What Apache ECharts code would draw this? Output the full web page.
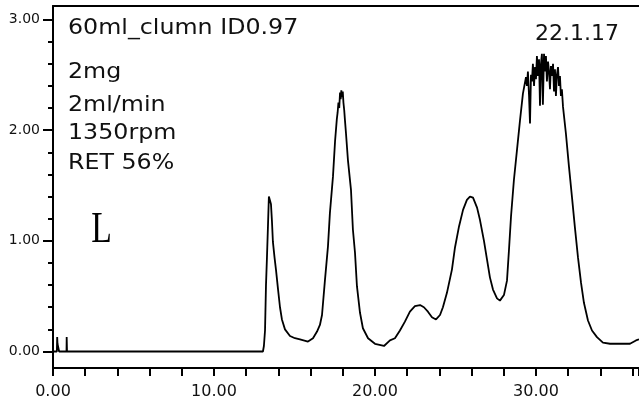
<!DOCTYPE html>
<html>
<head>
<meta charset="utf-8">
<script src="https://cdn.jsdelivr.net/npm/echarts@6/dist/echarts.min.js"></script>
<style>html,body{margin:0;padding:0;background:#fff}#c{width:639px;height:400px}</style>
</head>
<body>
<div id="c"></div>
<script>
// Retention time (min) and detector response
const retentionTime = [
  0, 0.24, 0.26, 0.28, 0.37, 0.38, 0.84, 0.85, 0.87,
  13.04, 13.10, 13.17, 13.23, 13.29, 13.35, 13.41, 13.47, 13.54, 13.60, 13.66, 13.76, 13.85, 13.98,
  14.10, 14.22, 14.41, 14.72, 15.03, 15.34, 15.84, 16.15, 16.40, 16.58, 16.71, 16.89, 17.08, 17.20,
  17.39, 17.52, 17.63, 17.68, 17.73, 17.78, 17.83, 17.87, 17.91, 17.94, 18.00, 18.04, 18.09, 18.13,
  18.20, 18.32, 18.51, 18.63, 18.76, 18.88, 19.07, 19.25, 19.57, 20.00, 20.56, 20.93, 21.24, 21.55,
  21.86, 22.17, 22.48, 22.80, 23.04, 23.29, 23.54, 23.79, 24.04, 24.22, 24.47, 24.78, 24.97, 25.22,
  25.47, 25.71, 25.90, 26.09, 26.34, 26.52, 26.77, 26.96, 27.14, 27.33, 27.58, 27.76, 28.01, 28.20,
  28.32, 28.45, 28.63, 28.82, 29.01, 29.19, 29.38,
  29.44, 29.50, 29.57, 29.63, 29.69, 29.75, 29.81, 29.88, 29.94, 30.00, 30.06, 30.12, 30.19, 30.25,
  30.31, 30.37, 30.43, 30.50, 30.56, 30.62, 30.68, 30.75, 30.81, 30.87, 30.93, 31.00, 31.06, 31.12,
  31.18, 31.24, 31.30, 31.37, 31.43, 31.49, 31.55, 31.61,
  31.68, 31.86, 32.05, 32.24, 32.42, 32.61, 32.80, 32.98, 33.23, 33.48, 33.79, 34.16, 34.60, 35.22,
  35.84, 36.21, 36.40
];
const absorbance = [
  0, 0, 0.13, 0.07, 0.07, 0, 0, 0.13, 0,
  0, 0.05, 0.19, 0.60, 0.85, 1.12, 1.40, 1.37, 1.33, 1.18, 0.99, 0.85, 0.74, 0.56,
  0.40, 0.29, 0.20, 0.14, 0.12, 0.11, 0.09, 0.12, 0.18, 0.24, 0.33, 0.64, 0.95, 1.25,
  1.58, 1.90, 2.10, 2.16, 2.25, 2.20, 2.34, 2.28, 2.36, 2.30, 2.35, 2.25, 2.18, 2.10,
  1.97, 1.73, 1.46, 1.10, 0.89, 0.59, 0.35, 0.21, 0.12, 0.07, 0.05, 0.10, 0.12, 0.19,
  0.27, 0.36, 0.41, 0.42, 0.40, 0.36, 0.31, 0.29, 0.33, 0.40, 0.53, 0.74, 0.94, 1.13,
  1.28, 1.37, 1.40, 1.39, 1.30, 1.19, 1.00, 0.83, 0.67, 0.56, 0.48, 0.46, 0.51, 0.64,
  0.91, 1.22, 1.55, 1.82, 2.09, 2.33, 2.48,
  2.40, 2.53, 2.31, 2.06, 2.50, 2.44, 2.60, 2.40, 2.57, 2.46, 2.67, 2.49, 2.64, 2.22,
  2.60, 2.69, 2.23, 2.69, 2.53, 2.67, 2.44, 2.62, 2.53, 2.37, 2.58, 2.49, 2.60, 2.35,
  2.55, 2.31, 2.50, 2.57, 2.40, 2.49, 2.31, 2.37,
  2.21, 1.97, 1.67, 1.39, 1.12, 0.85, 0.62, 0.44, 0.28, 0.19, 0.13, 0.08, 0.07, 0.07,
  0.07, 0.10, 0.11
];
const xLabelValues = [0, 10, 20, 30];
const yLabelValues = [0, 1, 2, 3];
const yMinorTickValues = [0, 0.2, 0.4, 0.6, 0.8, 1.0, 1.2, 1.4, 1.6, 1.8, 2.0, 2.2, 2.4, 2.6, 2.8, 3.0];
const noteLines = ['60ml_clumn ID0.97', '2mg', '2ml/min', '1350rpm', 'RET 56%'];
const sampleMark = 'L';
const dateText = '22.1.17';

const X_MIN = 0, X_MAX = 36.4, Y_MIN = -0.149, Y_MAX = 3.122;
const axisColor = '#000';
const fmt = v => v.toFixed(2);

const chart = echarts.init(document.getElementById('c'), null, {renderer: 'canvas'});
const noteY = [29, 73, 106, 134, 164];
const graphics = noteLines.map((t, i) => ({
  type: 'text', x: 68, y: noteY[i], scaleX: 1.13, silent: true,
  style: {text: t, fontFamily: 'DejaVu Sans', fontSize: 21, fill: '#111', align: 'left', verticalAlign: 'middle'}
}));
graphics.push({
  type: 'text', x: 101.5, y: 230, scaleX: 0.75, silent: true,
  style: {text: sampleMark, fontFamily: 'Liberation Serif', fontSize: 45, fill: '#000', align: 'center', verticalAlign: 'middle'}
});
graphics.push({
  type: 'text', x: 535, y: 34, silent: true,
  style: {text: dateText, fontFamily: 'DejaVu Sans', fontSize: 22, fill: '#111', align: 'left', verticalAlign: 'middle'}
});

chart.setOption({
  animation: false,
  backgroundColor: '#fff',
  grid: {left: 53, right: 0, top: 6, bottom: 32, containLabel: false, outerBoundsMode: 'none'},
  xAxis: [
    {
      type: 'value', min: X_MIN, max: X_MAX, interval: 2, position: 'bottom',
      axisLine: {show: true, onZero: false, lineStyle: {color: axisColor, width: 2}},
      axisTick: {show: true, length: 8, lineStyle: {color: axisColor, width: 2}},
      axisLabel: {customValues: xLabelValues, formatter: fmt, fontFamily: 'DejaVu Sans', fontSize: 16, color: '#111', margin: 16},
      splitLine: {show: false}
    },
    {
      type: 'value', min: X_MIN, max: X_MAX, position: 'top',
      axisLine: {show: true, onZero: false, lineStyle: {color: axisColor, width: 2}},
      axisTick: {show: false}, axisLabel: {show: false}, splitLine: {show: false}
    }
  ],
  yAxis: [
    {
      type: 'value', min: Y_MIN, max: Y_MAX, position: 'left',
      axisLine: {show: true, onZero: false, lineStyle: {color: axisColor, width: 2}},
      axisTick: {show: true, customValues: yLabelValues, length: 10, lineStyle: {color: axisColor, width: 2}},
      axisLabel: {customValues: yLabelValues, formatter: fmt, fontFamily: 'DejaVu Sans', fontSize: 14, color: '#111', margin: 13},
      splitLine: {show: false}
    },
    {
      type: 'value', min: Y_MIN, max: Y_MAX, position: 'left', offset: 0,
      axisLine: {show: false, onZero: false},
      axisTick: {show: true, customValues: yMinorTickValues, length: 5, lineStyle: {color: axisColor, width: 2}},
      axisLabel: {show: false}, splitLine: {show: false}
    }
  ],
  series: [{
    type: 'line', xAxisIndex: 0, yAxisIndex: 0,
    data: retentionTime.map((t, i) => [t, absorbance[i]]),
    symbol: 'none', showSymbol: false, silent: true, clip: true,
    lineStyle: {color: '#000', width: 1.8}
  }],
  graphic: graphics
});
</script>
</body>
</html>
